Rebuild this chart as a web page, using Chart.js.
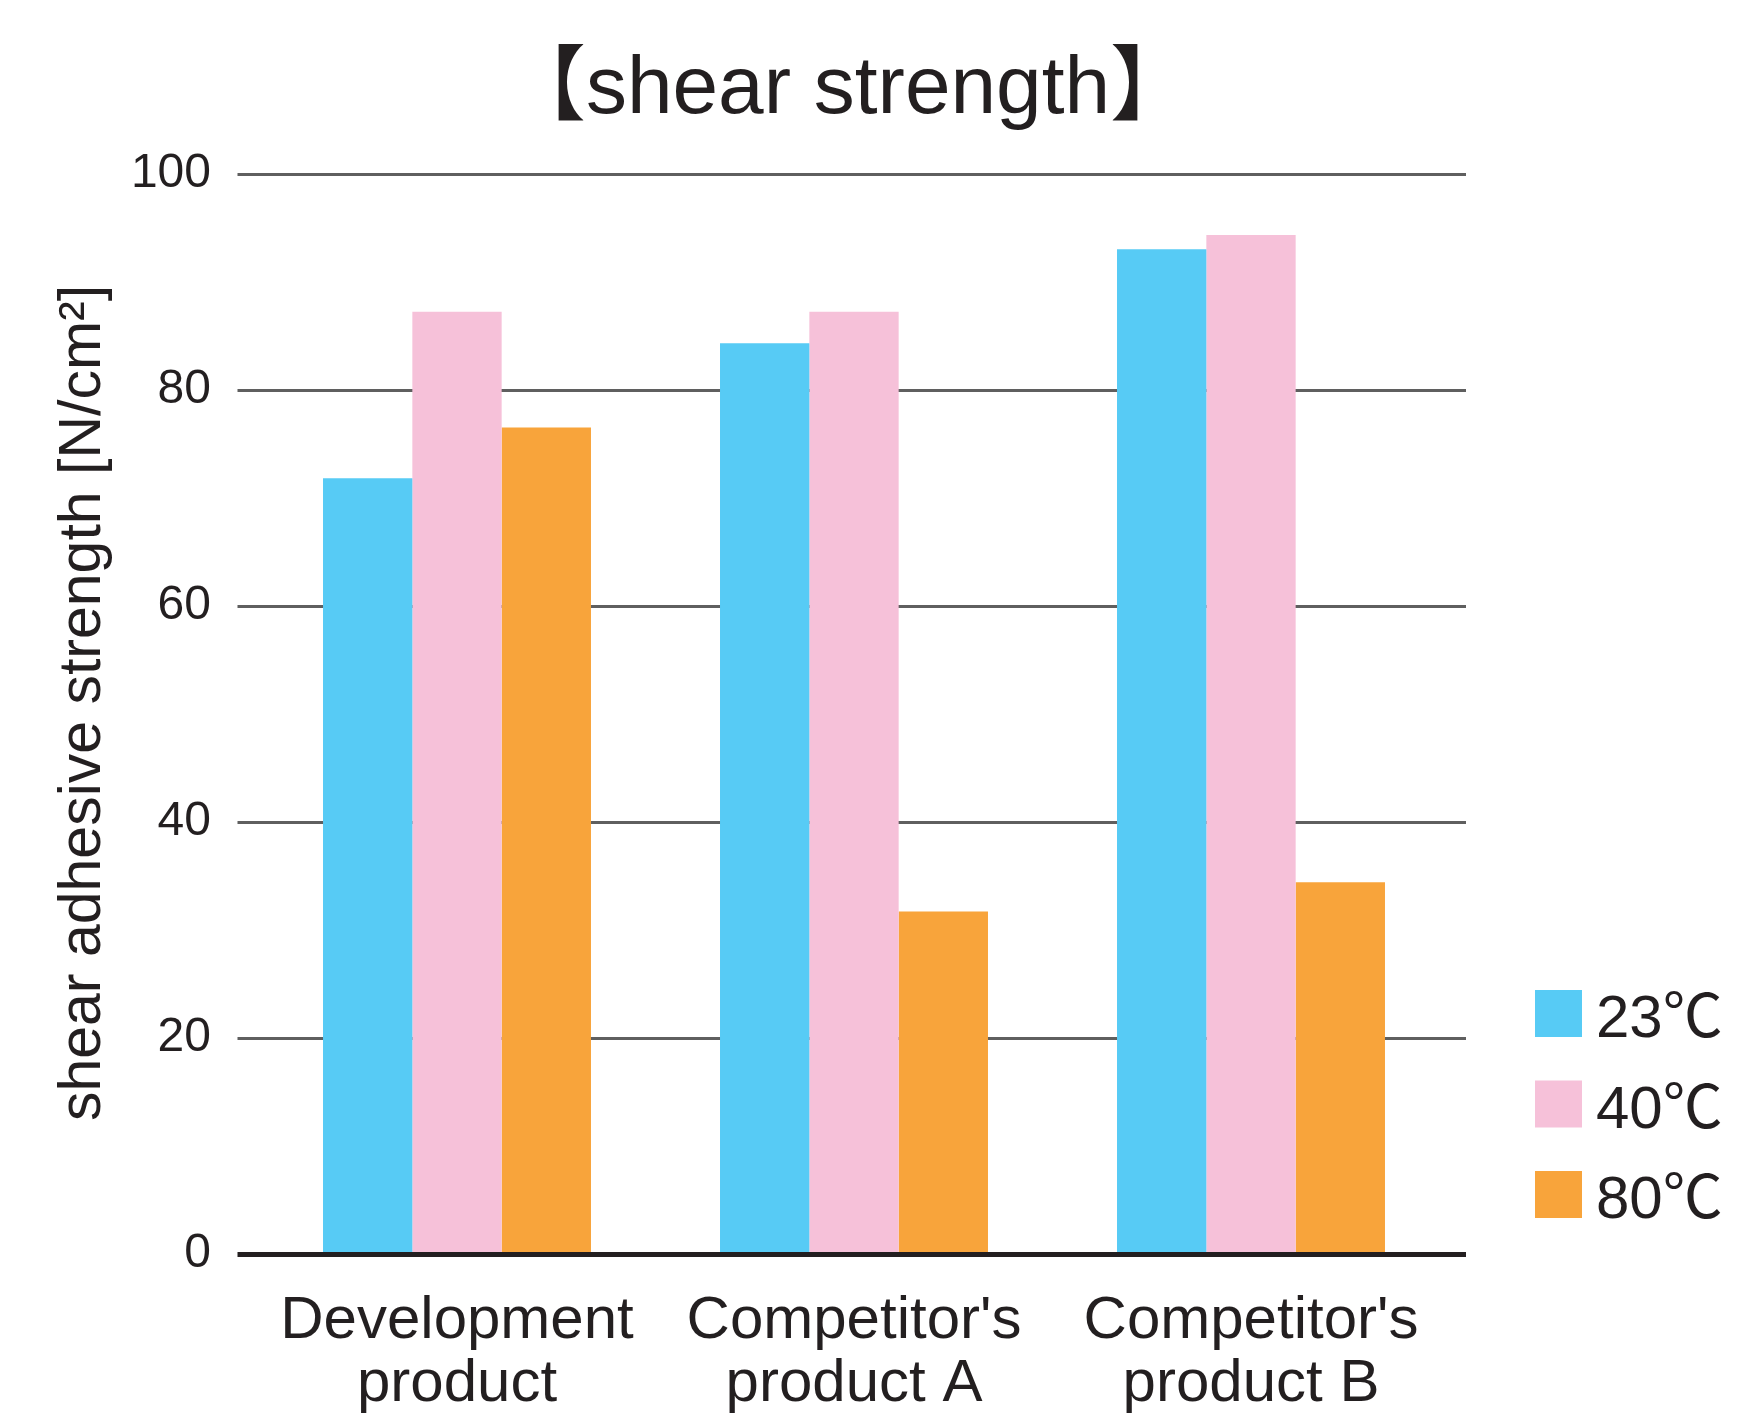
<!DOCTYPE html>
<html>
<head>
<meta charset="utf-8">
<script src="https://cdn.jsdelivr.net/npm/chart.js@4.4.1/dist/chart.umd.min.js"></script>
<style>
  html, body { margin: 0; padding: 0; background: #ffffff; }
  #wrap { width: 1739px; height: 1418px; position: relative; }
</style>
</head>
<body>
<div id="wrap"><canvas id="c" width="1739" height="1418"></canvas></div>
<script>
// ---- data ----
const categories = [["Development", "product"], ["Competitor's", "product A"], ["Competitor's", "product B"]];
const seriesLabels = ["23℃", "40℃", "80℃"];
const values23 = [71.8, 84.3, 93.0];
const values40 = [87.2, 87.2, 94.3];
const values80 = [76.5, 31.7, 34.4];
const yTicks = [0, 20, 40, 60, 80, 100];
const chartTitle = "【shear strength】";
const yAxisTitle = "shear adhesive strength [N/cm²]";

const colors = ["#57CBF5", "#F6C1D9", "#F8A43B"];
const TEXT = "#231f20";
const FONT = "'Liberation Sans', Arial, 'Noto Sans CJK JP', sans-serif";

const gridPlugin = {
  id: 'gridPlugin',
  beforeDatasetsDraw(chart) {
    const {ctx, chartArea, scales: {y}} = chart;
    ctx.save();
    ctx.strokeStyle = "#5f5f5f";
    ctx.lineWidth = 3;
    yTicks.forEach(v => {
      if (v === 0) return;
      const py = Math.round(y.getPixelForValue(v)) + 0.5;
      ctx.beginPath();
      ctx.moveTo(chartArea.left - 21, py);
      ctx.lineTo(chartArea.right + 16.5, py);
      ctx.stroke();
    });
    ctx.restore();
  },
  afterDatasetsDraw(chart) {
    const {ctx, chartArea, scales: {y}} = chart;
    const py = y.getPixelForValue(0) + 0.5;
    ctx.save();
    ctx.strokeStyle = TEXT;
    ctx.lineWidth = 5;
    ctx.beginPath();
    ctx.moveTo(chartArea.left - 21, py);
    ctx.lineTo(chartArea.right + 16.5, py);
    ctx.stroke();
    ctx.restore();
  },
  afterDraw(chart) {
    const {ctx} = chart;
    ctx.save();
    // title
    ctx.fillStyle = TEXT;
    ctx.font = "82px " + FONT;
    ctx.textAlign = "center";
    ctx.textBaseline = "alphabetic";
    ctx.fillText(chartTitle, 848, 113);
    // y axis title
    ctx.save();
    ctx.translate(83.4, 703);
    ctx.rotate(-Math.PI / 2);
    ctx.font = "59px " + FONT;
    ctx.textAlign = "center";
    ctx.textBaseline = "middle";
    ctx.fillText(yAxisTitle, 0, 0);
    ctx.restore();
    // legend
    chart.data.datasets.forEach((ds, i) => {
      const top = 990 + i * 90.5;
      ctx.fillStyle = ds.backgroundColor;
      ctx.fillRect(1535, top, 47, 47);
      ctx.fillStyle = TEXT;
      ctx.font = "60px " + FONT;
      ctx.textAlign = "left";
      ctx.textBaseline = "alphabetic";
      ctx.fillText(ds.label, 1596, top + 47);
    });
    ctx.restore();
  }
};

new Chart(document.getElementById('c'), {
  type: 'bar',
  data: {
    labels: categories,
    datasets: [
      { label: seriesLabels[0], data: values23, backgroundColor: colors[0] },
      { label: seriesLabels[1], data: values40, backgroundColor: colors[1] },
      { label: seriesLabels[2], data: values80, backgroundColor: colors[2] }
    ]
  },
  options: {
    responsive: false,
    animation: false,
    devicePixelRatio: 1,
    layout: { padding: { top: 173.5, right: 289.5, bottom: 0, left: 0 } },
    datasets: { bar: { categoryPercentage: 0.675, barPercentage: 1.0, borderWidth: 0 } },
    plugins: { legend: { display: false }, title: { display: false }, tooltip: { enabled: false } },
    scales: {
      x: {
        offset: true,
        afterFit(scale) { scale.height = 1418 - 1254; },
        grid: { display: false, drawTicks: false },
        border: { display: false },
        ticks: { color: TEXT, padding: 35.4, font: { family: FONT, size: 60, lineHeight: 1.06 }, maxRotation: 0, autoSkip: false }
      },
      y: {
        min: 0, max: 100,
        afterBuildTicks(scale) { scale.ticks = yTicks.map(v => ({ value: v })); },
        afterFit(scale) { scale.width = 258.5; },
        grid: { display: false, drawTicks: false },
        border: { display: false },
        ticks: { color: TEXT, padding: 47.5, font: { family: FONT, size: 48 } },
        title: { display: false }
      }
    }
  },
  plugins: [gridPlugin]
});
</script>
</body>
</html>
